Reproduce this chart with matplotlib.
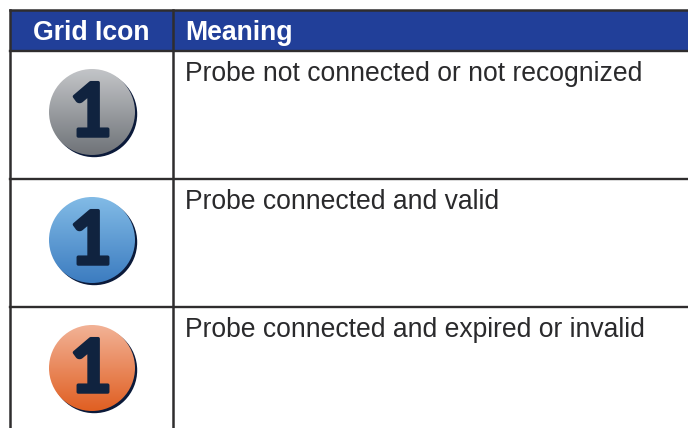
import numpy as np
import matplotlib
matplotlib.use("Agg")
import matplotlib.pyplot as plt
import matplotlib.patheffects as pe
from matplotlib.patches import Circle
from matplotlib.colors import LinearSegmentedColormap

headers = ["Grid Icon", "Meaning"]
meanings = ["Probe not connected or not recognized",
            "Probe connected and valid",
            "Probe connected and expired or invalid"]
icon_label = "1"
gradients = [("#c3c5c8", "#6f7378"), ("#82bbe6", "#3c7cc0"), ("#f2b296", "#e05f22")]

W, H = 688, 428
fig = plt.figure(figsize=(W/100, H/100), dpi=100)
ax = fig.add_axes([0, 0, 1, 1])
ax.set_xlim(0, W); ax.set_ylim(H, 0); ax.axis("off")

left, split = 9.7, 173
top, head_bot = 10, 50.7
row_h = 128
row_edges = [head_bot + i*row_h for i in range(len(meanings))]
line = "#2f2d2e"
font = "Liberation Sans"

ax.fill_between([left, W], top, head_bot, color="#213f99", lw=0, zorder=1)
ax.plot([left, W], [top, top], color=line, lw=1.8, zorder=3)
for y in row_edges:
    ax.plot([left, W], [y, y], color=line, lw=1.7, zorder=3)
ax.plot([left, left], [top, H], color=line, lw=1.8, zorder=3)
ax.plot([split, split], [top, H], color=line, lw=1.8, zorder=3)

ax.text(91, 30, headers[0], color="white", fontsize=19.2, fontweight="bold",
        family=font, ha="center", va="center_baseline", zorder=4)
ax.text(185, 30, headers[1], color="white", fontsize=19.2, fontweight="bold",
        family=font, ha="left", va="center_baseline", zorder=4)

cx, r = 92, 43
for edge, text, (c0, c1) in zip(row_edges, meanings, gradients):
    cy = edge + 61.3
    ax.add_patch(Circle((cx+2.2, cy+2.2), r, color="#0b1a3a", lw=0, zorder=4))
    cmap = LinearSegmentedColormap.from_list("g", [c0, c1])
    im = ax.imshow(np.linspace(0, 1, 128).reshape(-1, 1), cmap=cmap, aspect="auto",
                   extent=(cx-r, cx+r, cy+r, cy-r), zorder=5)
    im.set_clip_path(Circle((cx, cy), r, transform=ax.transData))
    ax.text(cx-1, cy+24, icon_label, color="#10233f", fontsize=53, fontweight="bold",
            family=["Lato", "DejaVu Sans"], ha="center", va="baseline", zorder=6,
            path_effects=[pe.withStroke(linewidth=2.5, foreground="#10233f")])
    ax.text(185, edge+20.3, text, color="#2a2a2c", fontsize=19.1, family=font,
            ha="left", va="center_baseline", zorder=4)
ax.set_xlim(0, W); ax.set_ylim(H, 0)
fig.savefig("out.png", dpi=100)
